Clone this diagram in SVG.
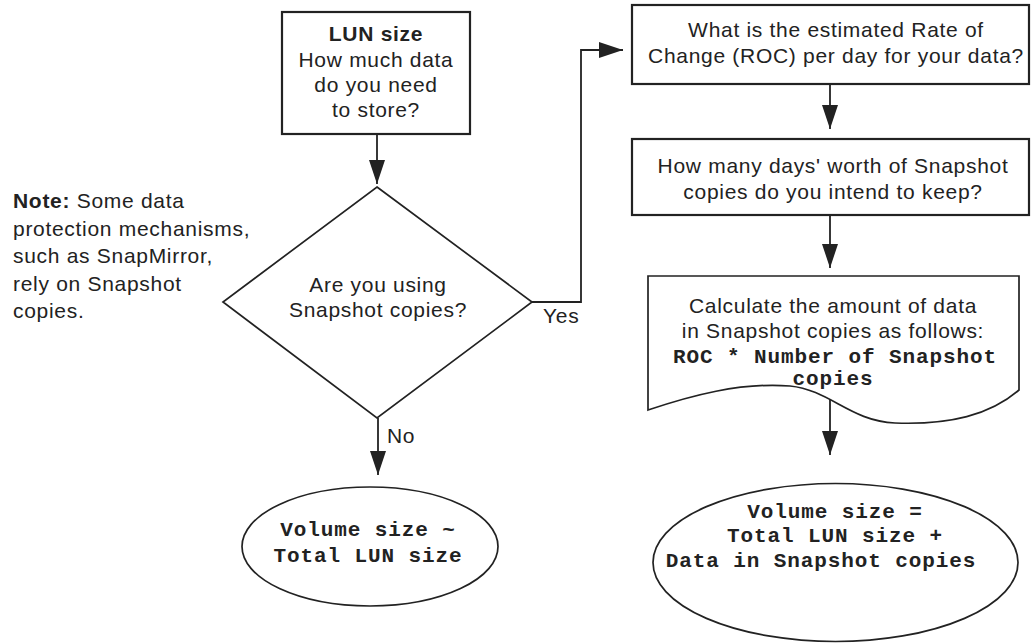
<svg xmlns="http://www.w3.org/2000/svg" width="1031" height="643" viewBox="0 0 1031 643">
<style>
.t{font-family:"Liberation Sans",Arial,sans-serif;font-size:21px;letter-spacing:0.7px;fill:#222;text-anchor:middle}
.l{text-anchor:start}
.b{font-weight:bold}
.m{font-family:"Liberation Mono","Courier New",monospace;font-size:21px;font-weight:bold;letter-spacing:0.9px;fill:#222;text-anchor:middle}
.box{fill:#fff;stroke:#222;stroke-width:2.2}
.shape{fill:#fff;stroke:#222;stroke-width:1.7}
.c{fill:none;stroke:#222;stroke-width:1.8}
</style>
<defs>
<marker id="ah" markerUnits="userSpaceOnUse" markerWidth="24" markerHeight="16" refX="24" refY="8" orient="auto">
<path d="M0,0 L24,8 L0,16 Z" fill="#222"/>
</marker>
</defs>
<rect width="1031" height="643" fill="#fff"/>
<g id="connectors">
<path class="c" d="M377,134 V184" marker-end="url(#ah)"/>
<path class="c" d="M532,302 H581 V50 H623" marker-end="url(#ah)"/>
<path class="c" d="M830,84 V129" marker-end="url(#ah)"/>
<path class="c" d="M830,215 V268" marker-end="url(#ah)"/>
<path class="c" d="M830,394 V455" marker-end="url(#ah)"/>
<path class="c" d="M378,418 V475" marker-end="url(#ah)"/>
<text class="t l" x="543" y="323">Yes</text>
<text class="t l" x="387" y="443">No</text>
</g>
<g id="note">
<text class="t l" x="13" y="208"><tspan class="b">Note:</tspan> Some data</text>
<text class="t l" x="13" y="235.5">protection mechanisms,</text>
<text class="t l" x="13" y="263">such as SnapMirror,</text>
<text class="t l" x="13" y="290.5">rely on Snapshot</text>
<text class="t l" x="13" y="318">copies.</text>
</g>
<g id="lun">
<rect class="box" x="282" y="12" width="188" height="122" stroke-width="2.6"/>
<text class="t b" x="376" y="41">LUN size</text>
<text class="t" x="376" y="67">How much data</text>
<text class="t" x="376" y="92">do you need</text>
<text class="t" x="376" y="117">to store?</text>
</g>
<g id="decision">
<polygon class="shape" points="377,187 532,302 377,418 223,302"/>
<text class="t" x="378" y="292">Are you using</text>
<text class="t" x="378" y="317">Snapshot copies?</text>
</g>
<g id="roc">
<rect class="box" x="632" y="5" width="397" height="79"/>
<text class="t" x="836" y="37">What is the estimated Rate of</text>
<text class="t" x="836" y="63">Change (ROC) per day for your data?</text>
</g>
<g id="days">
<rect class="box" x="632" y="139" width="397" height="76"/>
<text class="t" x="833" y="173">How many days' worth of Snapshot</text>
<text class="t" x="833" y="199">copies do you intend to keep?</text>
</g>
<g id="calc">
<path class="shape" d="M648,276 H1019 V390 C990,415 950,425 895,423 C850,421 830,390 790,386 C740,382 690,396 648,410 Z"/>
<text class="t" x="833" y="313">Calculate the amount of data</text>
<text class="t" x="833" y="338">in Snapshot copies as follows:</text>
<text class="m" x="835" y="363">ROC * Number of Snapshot</text>
<text class="m" x="833" y="385">copies</text>
</g>
<g id="result-no">
<ellipse class="shape" cx="370" cy="546.5" rx="128" ry="59.5"/>
<text class="m" x="368" y="536">Volume size ~</text>
<text class="m" x="368" y="562">Total LUN size</text>
</g>
<g id="result-yes">
<ellipse class="shape" cx="835.5" cy="562.5" rx="182.5" ry="79"/>
<text class="m" x="835" y="518">Volume size =</text>
<text class="m" x="835" y="542">Total LUN size +</text>
<text class="m" x="821" y="567">Data in Snapshot copies</text>
</g>
</svg>
